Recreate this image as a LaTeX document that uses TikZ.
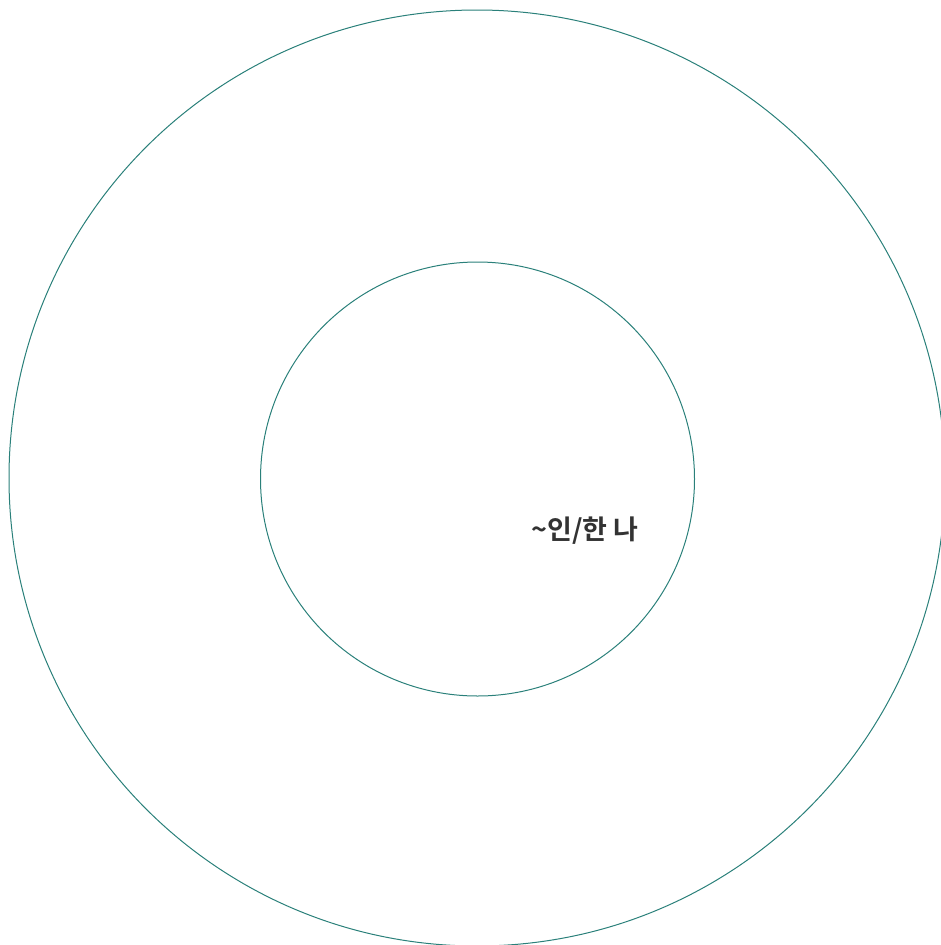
\documentclass[tikz,border=0pt]{standalone}
\usepackage{fontspec}
\newfontfamily\kofont{Noto Sans CJK KR}[BoldFont={* Bold}]
\definecolor{ringteal}{RGB}{42,128,122}
\definecolor{labelgray}{RGB}{51,51,51}
\usetikzlibrary{positioning}
\tikzset{
  ring/.style={circle, draw=ringteal, line width=1pt, inner sep=0pt},
  lbl/.style={font=\kofont\bfseries\fontsize{27}{32}\selectfont, text=labelgray},
}

\begin{document}
\begin{tikzpicture}[x=1pt, y=-1pt]
\useasboundingbox (0,0) rectangle (941,945);

\coordinate (C) at (477,478);

\node[ring, minimum size=936pt] (outer) at (C) {};
\node[ring, minimum size=434pt] (inner) at (477.5,479) {};

\node[lbl] (name) at (585,531) {\textasciitilde 인/한 나};

\end{tikzpicture}
\end{document}
